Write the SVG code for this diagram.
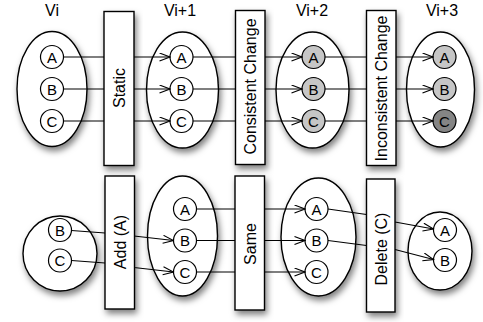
<svg xmlns="http://www.w3.org/2000/svg" width="483" height="322" viewBox="0 0 483 322">
<style>
text{font-family:"Liberation Sans",Arial,Helvetica,sans-serif;fill:#000}
.lbl{font-size:16px;text-anchor:middle}
.box{fill:#fff;stroke:#000;stroke-width:1.4;filter:url(#sh)}
.ell{fill:#fff;stroke:#000;stroke-width:1.4;filter:url(#sh)}
.c{fill:#fff;stroke:#000;stroke-width:1.2}
.g1{fill:#c6c6c6}
.g2{fill:#858585}
.ct{font-size:15px;text-anchor:middle}
.bt{font-size:16px;text-anchor:middle}
.con{fill:none;stroke:#000;stroke-width:1.1;marker-end:url(#ar)}
</style>
<defs>
<filter id="sh" x="-30%" y="-20%" width="160%" height="150%">
<feDropShadow dx="2" dy="4" stdDeviation="3" flood-color="#000" flood-opacity="0.5"/>
</filter>
<marker id="ar" markerUnits="userSpaceOnUse" markerWidth="12" markerHeight="10" refX="11" refY="4.5" orient="auto">
<path d="M0.5,0.5 L11,4.5 L0.5,8.5" fill="none" stroke="#000" stroke-width="1.1"/>
</marker>
</defs>

<!-- top row labels -->
<text class="lbl" x="52" y="16">Vi</text>
<text class="lbl" x="180" y="16">Vi+1</text>
<text class="lbl" x="312" y="16">Vi+2</text>
<text class="lbl" x="442" y="16">Vi+3</text>

<!-- top row version nodes -->
<g id="top-vi">
<ellipse class="ell" cx="52" cy="89" rx="35" ry="57.5"/>
<circle class="c" cx="52" cy="57" r="11.5"/><text class="ct" x="52" y="62.5">A</text>
<circle class="c" cx="52" cy="89" r="11.5"/><text class="ct" x="52" y="94.5">B</text>
<circle class="c" cx="52" cy="121" r="11.5"/><text class="ct" x="52" y="126.5">C</text>
</g>
<g id="top-vi1">
<ellipse class="ell" cx="182.5" cy="90" rx="36" ry="58"/>
<circle class="c" cx="181.5" cy="57" r="11.5"/><text class="ct" x="181.5" y="62.5">A</text>
<circle class="c" cx="181.5" cy="89" r="11.5"/><text class="ct" x="181.5" y="94.5">B</text>
<circle class="c" cx="181.5" cy="121" r="11.5"/><text class="ct" x="181.5" y="126.5">C</text>
</g>
<g id="top-vi2">
<ellipse class="ell" cx="312.5" cy="90" rx="36.5" ry="58"/>
<circle class="c g1" cx="313.5" cy="57" r="11.5"/><text class="ct" x="313.5" y="62.5">A</text>
<circle class="c g1" cx="313.5" cy="89" r="11.5"/><text class="ct" x="313.5" y="94.5">B</text>
<circle class="c g1" cx="313.5" cy="121" r="11.5"/><text class="ct" x="313.5" y="126.5">C</text>
</g>
<g id="top-vi3">
<ellipse class="ell" cx="440.5" cy="89.5" rx="34" ry="57.5"/>
<circle class="c g1" cx="444.5" cy="57" r="11.5"/><text class="ct" x="444.5" y="62.5">A</text>
<circle class="c g1" cx="444.5" cy="89" r="11.5"/><text class="ct" x="444.5" y="94.5">B</text>
<circle class="c g2" cx="444.5" cy="121" r="11.5"/><text class="ct" x="444.5" y="126.5">C</text>
</g>

<!-- bottom row version nodes -->
<g id="bot-vi">
<ellipse class="ell" cx="60" cy="253.5" rx="37" ry="37.5"/>
<circle class="c" cx="60" cy="230" r="11.5"/><text class="ct" x="60" y="235.5">B</text>
<circle class="c" cx="60" cy="260.5" r="11.5"/><text class="ct" x="60" y="266">C</text>
</g>
<g id="bot-vi1">
<ellipse class="ell" cx="182.5" cy="236" rx="35" ry="60"/>
<circle class="c" cx="185" cy="209" r="11.5"/><text class="ct" x="185" y="214.5">A</text>
<circle class="c" cx="185" cy="240.5" r="11.5"/><text class="ct" x="185" y="246">B</text>
<circle class="c" cx="185" cy="272" r="11.5"/><text class="ct" x="185" y="277.5">C</text>
</g>
<g id="bot-vi2">
<ellipse class="ell" cx="318.5" cy="237" rx="37.5" ry="59"/>
<circle class="c" cx="316.5" cy="209" r="11.5"/><text class="ct" x="316.5" y="214.5">A</text>
<circle class="c" cx="316.5" cy="240.5" r="11.5"/><text class="ct" x="316.5" y="246">B</text>
<circle class="c" cx="316.5" cy="272" r="11.5"/><text class="ct" x="316.5" y="277.5">C</text>
</g>
<g id="bot-vi3">
<ellipse class="ell" cx="440" cy="251" rx="32" ry="39"/>
<circle class="c" cx="445" cy="230" r="11.5"/><text class="ct" x="445" y="235.5">A</text>
<circle class="c" cx="445" cy="260" r="11.5"/><text class="ct" x="445" y="265.5">B</text>
</g>

<!-- connectors -->
<g id="connectors">
<path class="con" d="M63.5,57 H170"/>
<path class="con" d="M63.5,89 H170"/>
<path class="con" d="M63.5,121 H170"/>
<path class="con" d="M193,57 H302"/>
<path class="con" d="M193,89 H302"/>
<path class="con" d="M193,121 H302"/>
<path class="con" d="M325,57 H433"/>
<path class="con" d="M325,89 H433"/>
<path class="con" d="M325,121 H433"/>
<path class="con" d="M71.5,230.5 L105,233 L134,236 L173.5,240.5"/>
<path class="con" d="M71.5,260.5 L105,263 L134,267.5 L173.5,272"/>
<path class="con" d="M196.5,209 H305"/>
<path class="con" d="M196.5,240.5 H305"/>
<path class="con" d="M196.5,272 H305"/>
<path class="con" d="M328,209 L366.5,214.5 L395,222 L433.5,229"/>
<path class="con" d="M328,240.5 L366.5,245.5 L395,249.5 L433.5,259.5"/>
</g>

<!-- transition boxes -->
<g id="box-static">
<rect class="box" x="104" y="11.5" width="30" height="154"/>
<text class="bt" transform="translate(119,88) rotate(-90)" y="6">Static</text>
</g>
<g id="box-consistent">
<rect class="box" x="235.5" y="10.5" width="29.5" height="154"/>
<text class="bt" transform="translate(250,86.5) rotate(-90)" y="6">Consistent Change</text>
</g>
<g id="box-inconsistent">
<rect class="box" x="366.5" y="10.5" width="29.5" height="155"/>
<text class="bt" transform="translate(381,88.5) rotate(-90)" y="6">Inconsistent Change</text>
</g>
<g id="box-add">
<rect class="box" x="105" y="176" width="29.5" height="133"/>
<text class="bt" transform="translate(119.5,242) rotate(-90)" y="6">Add (A)</text>
</g>
<g id="box-same">
<rect class="box" x="235" y="176" width="29.5" height="134"/>
<text class="bt" transform="translate(249.5,244) rotate(-90)" y="6">Same</text>
</g>
<g id="box-delete">
<rect class="box" x="366.5" y="179" width="28.5" height="133"/>
<text class="bt" transform="translate(381,249) rotate(-90)" y="6">Delete (C)</text>
</g>
</svg>
